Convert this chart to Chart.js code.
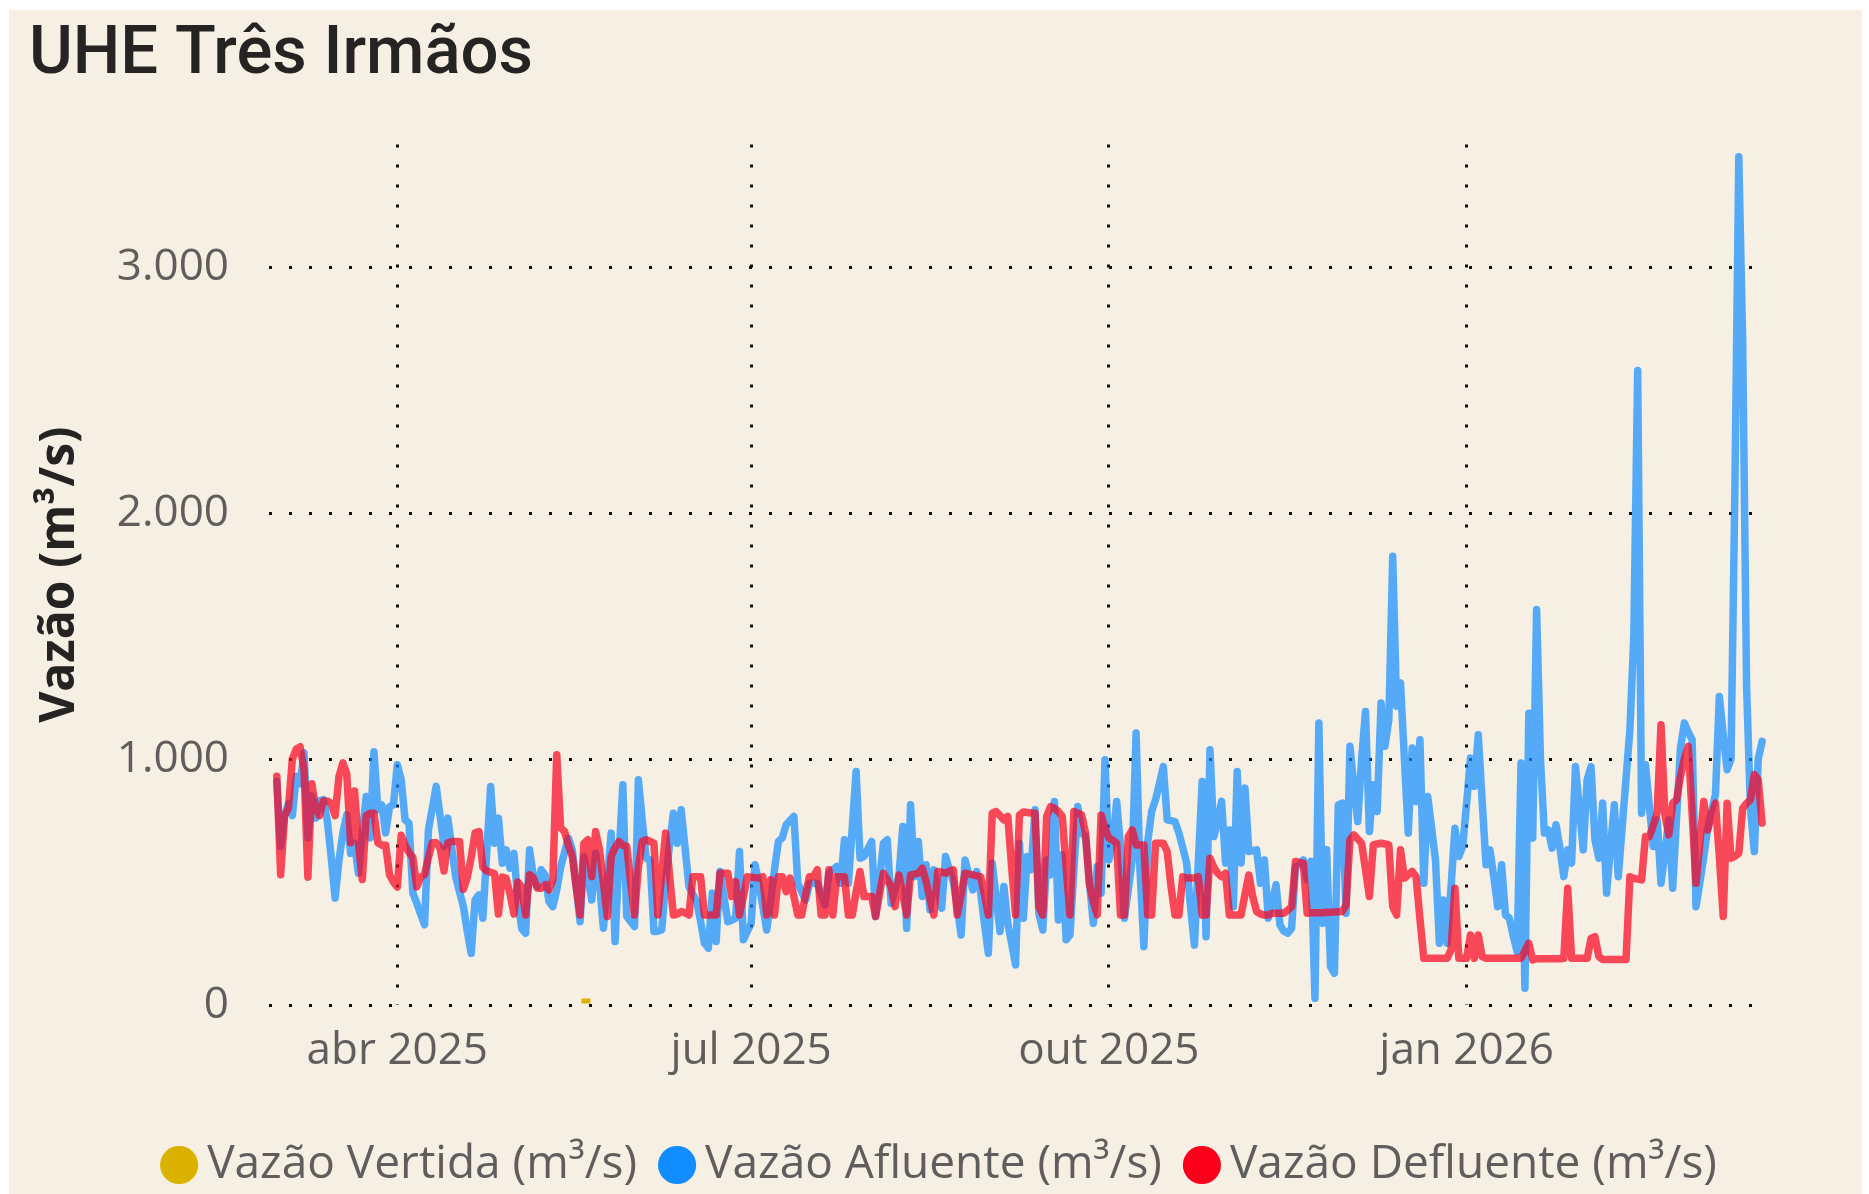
<!DOCTYPE html>
<html lang="pt-BR">
<head>
<meta charset="UTF-8">
<title>UHE Três Irmãos</title>
<script src="https://cdn.jsdelivr.net/npm/chart.js"></script>
<style>
  html, body { margin: 0; padding: 0; background: #ffffff; overflow: hidden; }
  .painel {
    position: absolute;
    left: 9px;
    top: 10px;
    width: 1853px;
    height: 1188px;
    background: #f6efe4;
  }
  #grafico { display: block; }
</style>
</head>
<body>
<div class="painel">
  <canvas id="grafico" width="1853" height="1188"></canvas>
</div>

<script>
  // dia 0 = 01/03/2025, um valor por dia ate 18/03/2026
  const inicioSerie = '2025-03-01';

  const vazaoAfluente = [
    910, 645, 770, 820, 770, 930, 900, 1025, 680, 850,
    760, 830, 835, 750, 600, 435, 590, 700, 773, 617,
    658, 536, 700, 848, 680, 1030, 794, 814, 700, 807,
    814, 977, 916, 753, 740, 455, 414, 370, 326, 712,
    800, 889, 770, 645, 760, 640, 522, 460, 400, 300,
    210, 427, 448, 353, 620, 889, 658, 760, 577, 631,
    556, 617, 427, 310, 292, 631, 522, 482, 550, 529,
    421, 400, 468, 560, 620, 679, 631, 480, 339, 604,
    520, 427, 617, 495, 312, 500, 699, 258, 600, 896,
    360, 340, 319, 916, 750, 597, 590, 299, 300, 305,
    500, 650, 780, 658, 794, 640, 482, 450, 421, 340,
    251, 231, 455, 258, 543, 440, 339, 345, 353, 624,
    265, 300, 332, 570, 495, 400, 305, 420, 550, 665,
    679, 733, 750, 767, 495, 460, 427, 495, 495, 495,
    450, 407, 536, 550, 563, 495, 672, 495, 720, 950,
    597, 604, 635, 665, 360, 500, 658, 672, 414, 470,
    522, 726, 312, 814, 522, 665, 441, 570, 387, 550,
    470, 394, 604, 550, 502, 400, 285, 590, 530, 468,
    543, 460, 330, 210, 577, 440, 299, 482, 332, 250,
    163, 658, 353, 604, 550, 794, 373, 305, 590, 529,
    828, 346, 611, 265, 285, 550, 807, 699, 685, 500,
    332, 563, 455, 997, 590, 658, 828, 645, 353, 470,
    590, 1106, 550, 237, 665, 787, 835, 900, 970, 753,
    750, 746, 700, 640, 577, 400, 244, 580, 909, 278,
    1038, 685, 750, 828, 577, 712, 400, 950, 577, 882,
    624, 628, 631, 495, 590, 353, 420, 489, 326, 300,
    292, 312, 563, 570, 590, 509, 584, 27, 1147, 332,
    631, 156, 129, 814, 821, 373, 1052, 889, 746, 1000,
    1194, 706, 896, 787, 1228, 1052, 1160, 1825, 1215, 1310,
    1000, 699, 1045, 828, 1079, 495, 848, 720, 590, 251,
    427, 251, 480, 719, 604, 645, 820, 1004, 889, 1099,
    830, 570, 631, 520, 400, 570, 366, 353, 280, 217,
    984, 68, 1187, 679, 1608, 1000, 699, 712, 638, 733,
    640, 522, 631, 577, 970, 800, 631, 916, 970, 672,
    597, 821, 455, 640, 814, 522, 720, 920, 1120, 1500,
    2580, 780, 977, 810, 645, 753, 495, 620, 753, 475,
    760, 1045, 1147, 1110, 1079, 400, 500, 604, 719, 790,
    855, 1255, 1100, 957, 1000, 2100, 3450, 2700, 1300, 800,
    624, 1000, 1072
  ];

  const vazaoDefluente = [
    930, 530, 770, 800, 1000, 1040, 1050, 960, 520, 900,
    800, 770, 830, 830, 820, 770, 930, 985, 940, 660,
    870, 660, 510, 770, 780, 780, 660, 650, 650, 530,
    500, 480, 690, 650, 620, 600, 480, 520, 530, 600,
    660, 660, 640, 545, 660, 665, 665, 665, 470, 520,
    600, 700, 705, 560, 545, 540, 535, 370, 520, 515,
    450, 370, 500, 480, 366, 530, 516, 475, 475, 489,
    468, 509, 1018, 720, 706, 650, 604, 480, 366, 658,
    672, 522, 706, 631, 500, 360, 604, 640, 665, 650,
    645, 500, 366, 560, 665, 672, 665, 658, 366, 530,
    699, 530, 366, 370, 380, 375, 366, 522, 522, 522,
    366, 366, 366, 366, 536, 536, 536, 441, 502, 366,
    440, 522, 520, 518, 516, 522, 366, 509, 366, 522,
    522, 461, 516, 440, 366, 366, 450, 522, 522, 550,
    366, 366, 550, 366, 522, 522, 522, 366, 366, 460,
    543, 441, 441, 441, 360, 450, 536, 510, 482, 400,
    529, 450, 366, 529, 532, 536, 556, 502, 430, 366,
    543, 540, 536, 545, 550, 366, 450, 536, 532, 529,
    525, 522, 450, 366, 780, 787, 770, 753, 767, 560,
    366, 773, 785, 783, 781, 780, 400, 366, 767, 807,
    800, 787, 767, 560, 366, 787, 780, 773, 699, 489,
    420, 366, 773, 720, 679, 670, 658, 366, 366, 685,
    712, 651, 651, 651, 366, 366, 658, 658, 658, 624,
    480, 366, 366, 522, 516, 516, 516, 522, 366, 366,
    597, 560, 536, 522, 536, 366, 366, 366, 366, 450,
    529, 440, 380, 370, 366, 366, 373, 373, 373, 373,
    385, 400, 584, 580, 577, 373, 375, 375, 375, 375,
    377, 377, 378, 379, 380, 407, 672, 692, 675, 658,
    550, 441, 651, 655, 658, 655, 651, 400, 366, 631,
    516, 530, 543, 522, 350, 190, 190, 190, 190, 190,
    190, 190, 224, 475, 190, 190, 190, 285, 190, 285,
    197, 190, 190, 190, 190, 190, 190, 190, 190, 190,
    190, 220, 251, 183, 188, 188, 188, 188, 188, 188,
    188, 190, 475, 190, 190, 190, 190, 190, 271, 278,
    197, 185, 185, 185, 185, 185, 185, 185, 522, 515,
    512, 509, 685, 685, 730, 780, 1140, 773, 692, 821,
    835, 930, 1000, 1052, 780, 495, 660, 828, 712, 770,
    821, 604, 360, 821, 597, 605, 617, 800, 820, 835,
    937, 916, 740
  ];

  // vertimento so aparece em dois dias de maio/2025
  const diasVertida = [79, 80];
  const vazaoVertida = [16, 16];

  const diasTicksX = [31, 122, 214, 306];
  const rotulosX = ['abr 2025', 'jul 2025', 'out 2025', 'jan 2026'];
  const valoresTicksY = [0, 1000, 2000, 3000];
  const rotulosY = ['0', '1.000', '2.000', '3.000'];

  const nomesSeries = ['Vazão Vertida (m³/s)', 'Vazão Afluente (m³/s)', 'Vazão Defluente (m³/s)'];
  const coresLegenda = ['#dcb200', '#118dff', '#fa001b'];
  const coresLinha = ['#dcb200', 'rgba(17, 141, 255, 0.7)', 'rgba(250, 0, 27, 0.7)'];

  const fonteEixo = "'Segoe UI', 'Open Sans', sans-serif";
  const corTexto = '#605e5c';

  const pontos = (valores) => valores.map((v, i) => ({ x: i, y: v }));
  const grade = { color: '#111111', lineWidth: 3, drawTicks: false };
  const bordaPontilhada = { display: false, dash: [3, 17] };

  const ctx = document.getElementById('grafico').getContext('2d');
  new Chart(ctx, {
    type: 'line',
    data: {
      datasets: [
        {
          label: nomesSeries[0],
          data: diasVertida.map((d, i) => ({ x: d, y: vazaoVertida[i] })),
          borderColor: coresLinha[0],
          backgroundColor: coresLegenda[0],
          borderWidth: 5,
          borderCapStyle: 'square',
          order: 2
        },
        {
          label: nomesSeries[1],
          data: pontos(vazaoAfluente),
          borderColor: coresLinha[1],
          backgroundColor: coresLegenda[1],
          borderWidth: 7.5,
          borderCapStyle: 'round',
          borderJoinStyle: 'round',
          order: 1
        },
        {
          label: nomesSeries[2],
          data: pontos(vazaoDefluente),
          borderColor: coresLinha[2],
          backgroundColor: coresLegenda[2],
          borderWidth: 7.5,
          borderCapStyle: 'round',
          borderJoinStyle: 'round',
          order: 0
        }
      ]
    },
    options: {
      responsive: false,
      animation: false,
      events: [],
      elements: {
        point: { radius: 0 },
        line: { tension: 0 }
      },
      layout: { padding: { left: 20, right: 0, top: 0, bottom: 0 } },
      scales: {
        x: {
          type: 'linear',
          min: -2,
          max: 383,
          afterBuildTicks: (s) => { s.ticks = diasTicksX.map(v => ({ value: v })); },
          afterFit: (s) => { s.height = 102; },
          ticks: {
            padding: 20,
            maxRotation: 0,
            autoSkip: false,
            color: corTexto,
            font: { family: fonteEixo, size: 44 },
            callback: (v, i) => rotulosX[i]
          },
          grid: grade,
          border: bordaPontilhada
        },
        y: {
          min: 0,
          max: 3500,
          afterBuildTicks: (s) => { s.ticks = valoresTicksY.map(v => ({ value: v })); },
          afterFit: (s) => { s.width = 240; },
          ticks: {
            padding: 40,
            color: corTexto,
            font: { family: fonteEixo, size: 44 },
            callback: (v, i) => rotulosY[i]
          },
          grid: grade,
          border: bordaPontilhada,
          title: {
            display: true,
            text: 'Vazão (m³/s)',
            color: '#252423',
            font: { family: fonteEixo, size: 48, weight: 'bold' },
            padding: { top: 3, bottom: 0 }
          }
        },
        folga: {
          position: 'right',
          display: true,
          grid: { display: false },
          ticks: { display: false },
          border: { display: false },
          afterFit: (s) => { s.width = 96; }
        }
      },
      plugins: {
        title: {
          display: true,
          text: 'UHE Três Irmãos',
          align: 'start',
          color: '#252423',
          font: { family: 'Roboto', size: 67, weight: '500' },
          padding: { top: 6, bottom: 48 }
        },
        legend: {
          position: 'bottom',
          labels: {
            usePointStyle: true,
            boxWidth: 10,
            boxHeight: 27,
            padding: 35,
            color: corTexto,
            font: { family: fonteEixo, size: 46 },
            generateLabels: (chart) => chart.data.datasets.map((ds, i) => ({
              text: ds.label,
              fillStyle: coresLegenda[i],
              strokeStyle: coresLegenda[i],
              lineWidth: 0,
              pointStyle: 'circle',
              hidden: false,
              datasetIndex: i,
              fontColor: corTexto
            }))
          }
        },
        tooltip: { enabled: false }
      }
    }
  });
</script>
</body>
</html>
